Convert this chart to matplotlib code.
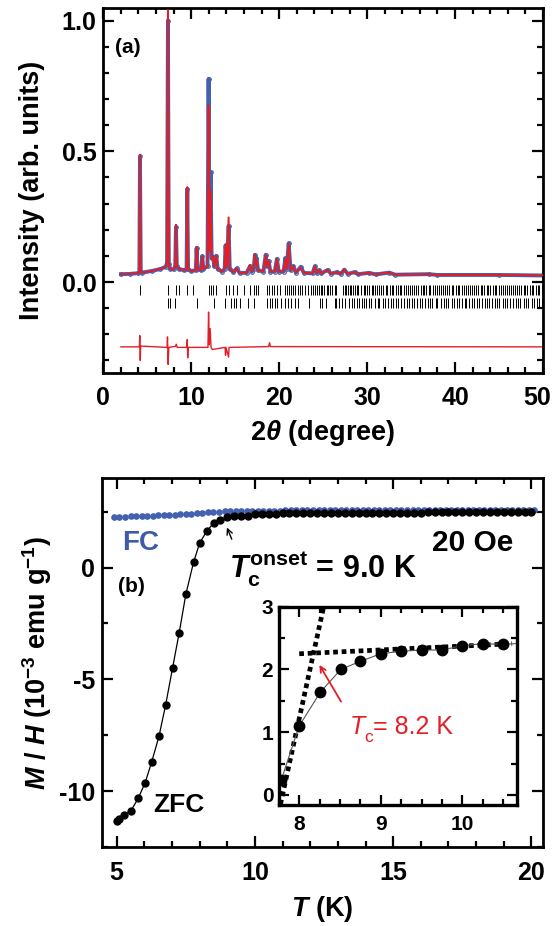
import numpy as np
import matplotlib
matplotlib.use("Agg")
import matplotlib.pyplot as plt
import matplotlib.transforms as mtransforms
from matplotlib.ticker import MultipleLocator

plt.rcParams["font.family"] = ["Liberation Sans", "DejaVu Sans"]
plt.rcParams["font.weight"] = "bold"
plt.rcParams["axes.labelweight"] = "bold"
plt.rcParams["mathtext.fontset"] = "custom"
plt.rcParams["mathtext.rm"] = "Liberation Sans:bold"
plt.rcParams["mathtext.it"] = "Liberation Sans:italic:bold"
plt.rcParams["mathtext.bf"] = "Liberation Sans:bold"

RED = "#e41e26"
BLUE = "#4461b0"

# ---- (a) powder pattern: (2theta, calc, obs)
profile = [
    (2.0, 0.030, 0.030), (3.0, 0.031, 0.031), (4.0, 0.034, 0.034),
    (4.10, 0.040, 0.040), (4.17, 0.487, 0.480), (4.26, 0.040, 0.040),
    (4.4, 0.036, 0.036), (5.5, 0.042, 0.042), (6.5, 0.050, 0.050),
    (7.1, 0.058, 0.058), (7.25, 0.075, 0.075), (7.35, 1.040, 1.000),
    (7.45, 0.070, 0.070), (7.6, 0.050, 0.050), (8.0, 0.048, 0.048),
    (8.18, 0.060, 0.060), (8.26, 0.219, 0.210), (8.36, 0.060, 0.060),
    (8.6, 0.050, 0.050), (9.2, 0.045, 0.045), (9.47, 0.050, 0.050),
    (9.55, 0.363, 0.355), (9.64, 0.050, 0.050), (10.0, 0.042, 0.042),
    (10.52, 0.045, 0.045), (10.61, 0.134, 0.130), (10.70, 0.050, 0.050),
    (11.1, 0.045, 0.045), (11.25, 0.098, 0.098), (11.38, 0.050, 0.050),
    (11.85, 0.060, 0.060), (11.97, 0.674, 0.777), (12.08, 0.120, 0.150),
    (12.2, 0.350, 0.420), (12.32, 0.090, 0.090), (12.5, 0.097, 0.097),
    (12.62, 0.060, 0.060), (12.85, 0.100, 0.100), (13.0, 0.050, 0.050),
    (13.5, 0.040, 0.040), (13.8, 0.050, 0.050), (13.9, 0.143, 0.140),
    (14.05, 0.060, 0.060), (14.25, 0.247, 0.215), (14.38, 0.050, 0.050),
    (14.8, 0.038, 0.038), (15.16, 0.052, 0.052), (15.5, 0.035, 0.035),
    (16.3, 0.035, 0.035), (16.67, 0.065, 0.060), (16.9, 0.040, 0.040),
    (17.1, 0.050, 0.050), (17.24, 0.104, 0.104), (17.32, 0.070, 0.070),
    (17.42, 0.085, 0.090), (17.6, 0.045, 0.045), (18.2, 0.040, 0.040),
    (18.47, 0.104, 0.104), (18.6, 0.060, 0.060), (18.8, 0.080, 0.080),
    (19.0, 0.040, 0.040), (19.5, 0.040, 0.040), (19.74, 0.088, 0.088),
    (19.95, 0.040, 0.040), (20.5, 0.040, 0.040), (20.7, 0.087, 0.090),
    (20.85, 0.050, 0.050), (21.08, 0.146, 0.148), (21.3, 0.045, 0.045),
    (21.6, 0.060, 0.060), (21.9, 0.036, 0.036), (22.45, 0.055, 0.058),
    (22.8, 0.035, 0.035), (23.8, 0.033, 0.033), (24.05, 0.060, 0.060),
    (24.3, 0.035, 0.035), (24.55, 0.045, 0.045), (24.8, 0.033, 0.033),
    (25.5, 0.046, 0.046), (25.9, 0.032, 0.032), (26.6, 0.038, 0.038),
    (27.0, 0.031, 0.031), (27.4, 0.047, 0.047), (27.8, 0.031, 0.031),
    (28.6, 0.038, 0.038), (29.0, 0.030, 0.030), (30.2, 0.035, 0.035),
    (31.0, 0.029, 0.029), (32.5, 0.036, 0.036), (33.2, 0.028, 0.028),
    (37.0, 0.030, 0.030), (38.0, 0.027, 0.027), (45.0, 0.027, 0.027),
    (50.0, 0.025, 0.025),
]

diff_x = [2.0, 4.1, 4.15, 4.2, 4.25, 7.25, 7.3, 7.37, 7.45, 8.2, 8.3, 8.4,
          9.5, 9.55, 9.6, 9.65, 11.9, 11.97, 12.05, 12.15, 12.25, 12.4,
          13.85, 13.9, 13.95, 14.25, 14.3, 18.8, 18.9, 19.0, 50.0]
diff_y = [-0.248, -0.248, -0.205, -0.300, -0.245, -0.250, -0.210, -0.315,
          -0.250, -0.246, -0.238, -0.250, -0.250, -0.220, -0.290, -0.250,
          -0.250, -0.115, -0.240, -0.178, -0.250, -0.258, -0.250, -0.280,
          -0.250, -0.287, -0.250, -0.247, -0.232, -0.247, -0.248]

bragg1 = [4.17, 7.31, 8.26, 8.64, 9.55, 10.23, 11.97, 12.2, 12.43, 12.8,
          13.94, 14.32, 14.7, 15.23, 15.99, 16.67, 17.12, 17.35, 17.61,
          18.56, 18.86, 19.13, 19.4, 19.7, 20.08, 20.7, 20.9, 21.1, 21.3,
          21.6, 21.8, 22.1, 22.4, 22.6, 22.9, 23.3, 23.6, 23.8, 24.1, 24.3,
          24.5, 24.7, 24.9, 25.1, 25.4, 25.6, 25.8, 26.0, 26.3, 26.5, 27.3,
          27.5, 27.6, 27.8, 28.0, 28.2, 28.4, 28.6, 28.8, 29.0, 29.3, 29.6,
          29.8, 30.0, 30.2, 30.5, 30.7, 30.9, 31.1, 31.4, 31.6, 31.8, 32.1,
          32.3, 32.6, 32.8, 33.0, 33.3, 33.5, 33.7, 33.9, 34.2, 34.4, 34.7,
          34.9, 35.1, 35.3, 35.6, 35.8, 36.1, 36.3, 36.5, 36.7, 37.0, 37.2,
          37.5, 37.7, 37.9, 38.2, 38.4, 38.6, 38.9, 39.1, 39.3, 39.6, 39.8,
          40.1, 40.3, 40.5, 40.8, 41.0, 41.2, 41.5, 41.7, 41.9, 42.2, 42.4,
          42.6, 42.9, 43.1, 43.3, 43.6, 43.8, 44.0, 44.3, 44.5, 44.7, 45.0,
          45.2, 45.4, 45.7, 45.9, 46.1, 46.4, 46.6, 46.8, 47.1, 47.3, 47.5,
          47.8, 48.0, 48.2, 48.5, 48.7, 48.9, 49.2, 49.4, 49.6, 49.9]
bragg2 = [7.31, 7.6, 8.2, 10.66, 12.6, 13.8, 14.5, 14.85, 15.1, 15.5, 16.5,
          17.1, 18.6, 18.9, 19.2, 19.5, 19.8, 20.2, 20.7, 21.0, 21.4, 21.8,
          22.1, 23.4, 24.6, 24.9, 25.3, 26.3, 26.5, 26.8, 27.1, 27.5, 27.9,
          28.3, 28.5, 28.8, 29.1, 29.4, 29.6, 29.9, 30.2, 30.4, 30.9, 31.2,
          31.4, 31.8, 32.0, 32.4, 32.7, 33.0, 33.3, 33.5, 33.9, 34.2, 34.5,
          34.8, 35.1, 35.3, 35.7, 36.0, 36.2, 36.6, 36.9, 37.2, 37.4, 37.8,
          38.0, 38.4, 38.7, 39.0, 39.2, 39.6, 39.9, 40.2, 40.4, 40.8, 41.1,
          41.3, 41.6, 41.9, 42.2, 42.5, 42.7, 43.1, 43.4, 43.6, 43.9, 44.2,
          44.5, 44.8, 45.0, 45.4, 45.7, 45.9, 46.3, 46.6, 46.9, 47.2, 47.4,
          47.8, 48.1, 48.3, 48.7, 49.0, 49.3, 49.5, 49.9]

# ---- (b) magnetisation, 20 Oe
fc_T = np.arange(4.9, 20.11, 0.2)
fc_M = [2.26, 2.27, 2.28, 2.29, 2.30, 2.31, 2.32, 2.33, 2.34, 2.35, 2.36,
        2.37, 2.39, 2.40, 2.42, 2.43, 2.45, 2.47, 2.49, 2.50, 2.52, 2.53,
        2.53, 2.54, 2.54, 2.54, 2.55, 2.55, 2.55, 2.55, 2.55, 2.56,
        2.56, 2.56, 2.56, 2.56, 2.56, 2.56, 2.57, 2.57, 2.57, 2.57,
        2.57, 2.57, 2.57, 2.57, 2.57, 2.57, 2.57, 2.58, 2.58, 2.58,
        2.58, 2.58, 2.58, 2.58, 2.58, 2.58, 2.58, 2.58, 2.58, 2.58,
        2.58, 2.58, 2.58, 2.58, 2.58, 2.58, 2.58, 2.58, 2.58, 2.58,
        2.58, 2.58, 2.58, 2.58, 2.58]
zfc_T = [5.0, 5.08, 5.28, 5.52, 5.78, 6.03, 6.27, 6.53, 6.77, 7.02, 7.26,
         7.5, 7.78, 8.0, 8.26, 8.51, 8.75, 9.0] + list(np.arange(9.25, 20.01, 0.25))
zfc_M = [-11.34, -11.25, -11.07, -10.88, -10.32, -9.63, -8.68, -7.55, -6.15,
         -4.50, -2.92, -1.20, 0.24, 1.10, 1.64, 2.00, 2.13, 2.25,
         2.29, 2.31, 2.31, 2.38, 2.41, 2.40, 2.42, 2.43, 2.43, 2.44, 2.44, 2.44,
         2.45, 2.45, 2.45, 2.45, 2.45, 2.45, 2.46, 2.46, 2.46, 2.46,
         2.46, 2.46, 2.46, 2.46, 2.46, 2.46, 2.47, 2.47, 2.47, 2.47,
         2.47, 2.47, 2.47, 2.47, 2.47, 2.47, 2.47, 2.47, 2.47, 2.47,
         2.47, 2.47]

# inset guide lines (dotted)
steep_T = [7.77, 8.30]
steep_M = [-0.15, 3.0]
flat_T = [8.0, 10.61]
flat_M = [2.25, 2.41]


def style(ax, lsize=18, major=8, minor=4.5):
    ax.tick_params(which="both", direction="in", top=True, right=True,
                   width=1.6, labelsize=lsize)
    ax.tick_params(which="major", length=major)
    ax.tick_params(which="minor", length=minor)
    for s in ax.spines.values():
        s.set_linewidth(2.0)


fig = plt.figure(figsize=(5.53, 9.26), dpi=100)

# ---------------- (a)
ax1 = fig.add_axes([0.1868, 0.5969, 0.7951, 0.3945])
px = [p[0] for p in profile]
pcal = [p[1] for p in profile]
pobs = [p[2] for p in profile]
ax1.plot(px, pobs, color=BLUE, lw=2.8, solid_joinstyle="round", zorder=2)
ax1.plot(px, pobs, "o", color=BLUE, ms=2.6, mfc="none", mew=0.8, zorder=2)
ax1.plot(px, pcal, color=RED, lw=1.4, zorder=3)
ax1.plot(diff_x, diff_y, color=RED, lw=1.0)
ax1.vlines(bragg1, -0.050, -0.012, color="k", lw=0.7)
ax1.vlines(bragg2, -0.100, -0.062, color="k", lw=0.7)
ax1.set_xlim(0, 50)
ax1.set_ylim(-0.349, 1.048)
ax1.set_xticks([0, 10, 20, 30, 40, 50])
ax1.xaxis.set_minor_locator(MultipleLocator(2))
ax1.set_yticks([0, 0.5, 1.0])
ax1.set_yticklabels(["0.0", "0.5", "1.0"])
ax1.yaxis.set_minor_locator(MultipleLocator(0.1))
style(ax1)
ax1.tick_params(axis="x", pad=9)
ax1.tick_params(axis="y", pad=5)
xl = ax1.set_xlabel(r"2$\theta$ (degree)", fontsize=19.5, labelpad=6)
ax1.set_ylabel("Intensity (arb. units)", fontsize=19.5, labelpad=12)
ax1.text(1.33, 0.895, "(a)", fontsize=15, ha="left", va="center")
# the last tick label sits a little inward so it fits in the figure
last = ax1.get_xticklabels()[-1]
last.set_transform(last.get_transform() +
                   mtransforms.ScaledTranslation(-6 / 100, 0, fig.dpi_scale_trans))

# ---------------- (b)
ax2 = fig.add_axes([0.185, 0.085, 0.797, 0.3985])
ax2.plot(fc_T, fc_M, "o", color=BLUE, ms=4.8, mec="none", zorder=2)
ax2.plot(zfc_T, zfc_M, "-o", color="k", lw=0.9, ms=5.0, zorder=3)
ax2.set_xlim(4.48, 20.42)
ax2.set_ylim(-12.52, 4.0)
ax2.set_xticks([5, 10, 15, 20])
ax2.xaxis.set_minor_locator(MultipleLocator(1))
ax2.set_yticks([-10, -5, 0])
ax2.set_yticklabels(["-10", "-5", "0"])
ax2.yaxis.set_minor_locator(MultipleLocator(2.5))
style(ax2)
ax2.tick_params(axis="x", pad=10)
ax2.tick_params(axis="y", pad=5)
ax2.set_xlabel(r"$T$ (K)", fontsize=19.5, labelpad=6)
ax2.set_ylabel(r"$M$ / $H$ (10$^{-3}$ emu g$^{-1}$)", fontsize=19.5, labelpad=4)

ax2.text(5.18, 1.09, "FC", color="#3e5aa8", fontsize=20, ha="left", va="center")
ax2.text(16.41, 1.09, "20 Oe", fontsize=21.5, ha="left", va="center")
ax2.text(9.05, -0.47, r"$T_\mathrm{c}^\mathrm{onset}$ = 9.0 K", fontsize=22,
         ha="left", va="baseline")
ax2.text(5.05, -0.85, "(b)", fontsize=15, ha="left", va="center")
ax2.text(6.33, -10.63, "ZFC", fontsize=19, ha="left", va="center")
ax2.annotate("", xy=(8.95, 1.91), xytext=(9.2, 1.16),
             arrowprops=dict(arrowstyle="->", color="k", lw=1.0))

# ---------------- inset
ax3 = fig.add_axes([0.5042, 0.1307, 0.4307, 0.2141])
ax3.plot(steep_T, steep_M, color="k", lw=3.4, ls=(0, (1.0, 0.8)))
ax3.plot(flat_T, flat_M, color="k", lw=3.4, ls=(0, (1.0, 0.8)))
ax3.plot(zfc_T, zfc_M, "-", color="#555555", lw=0.8)
ax3.plot(zfc_T, zfc_M, "o", color="k", ms=7.5)
ax3.set_xlim(7.75, 10.67)
ax3.set_ylim(-0.16, 3.0)
ax3.set_xticks([8, 9, 10])
ax3.xaxis.set_minor_locator(MultipleLocator(0.25))
ax3.set_yticks([0, 1, 2, 3])
ax3.yaxis.set_minor_locator(MultipleLocator(0.5))
style(ax3, lsize=15, major=7, minor=4)
for s in ax3.spines.values():
    s.set_linewidth(2.4)
ax3.tick_params(axis="x", pad=7)
ax3.tick_params(axis="y", pad=4)
ax3.annotate("", xy=(8.23, 2.11), xytext=(8.53, 1.45),
             arrowprops=dict(arrowstyle="->", color=RED, lw=1.3))
# red label built from plain text pieces (regular weight)
t1 = ax3.text(8.62, 1.08, "T", color=RED, fontsize=18, fontweight="normal",
              fontstyle="italic", ha="left", va="center")
t2 = ax3.annotate("c", xy=(0.92, 0.08), xycoords=t1, color=RED, fontsize=12.5,
                  fontweight="normal", ha="left", va="center")
ax3.annotate("= 8.2 K", xy=(1.0, 0.5), xycoords=(t2, t1), color=RED,
             fontsize=18, fontweight="normal", ha="left", va="center")

try:
    fig.canvas.draw()
except RecursionError:
    xl.set_text("2θ (degree)")

fig.savefig("out.png", dpi=100)
